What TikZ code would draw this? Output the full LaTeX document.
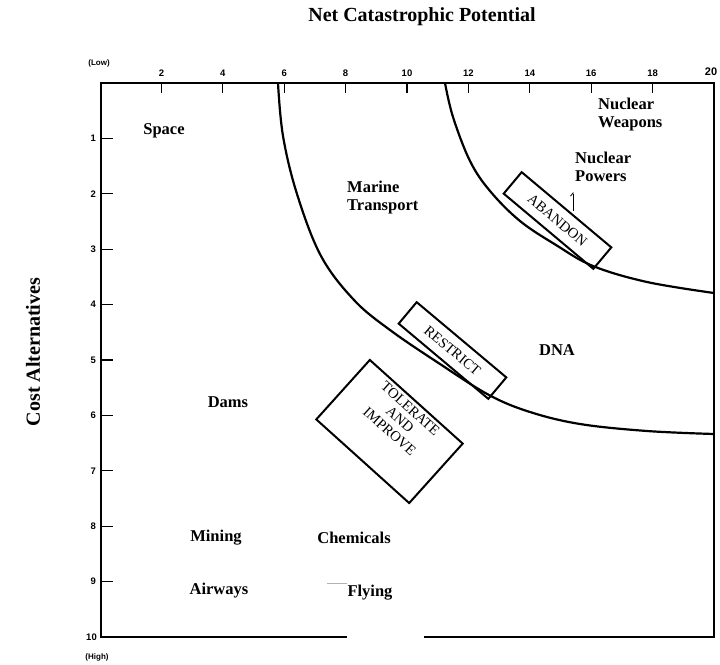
\documentclass[tikz,border=0pt]{standalone}
\usepackage{fontspec}
\setmainfont{Liberation Serif}
\setsansfont{Liberation Sans}
\usetikzlibrary{arrows.meta}
\begin{document}
\begin{tikzpicture}[x=1pt,y=-1pt,
  frame/.style={line width=1.6pt},
  tickline/.style={line width=1.2pt},
  curve/.style={line width=2.2pt},
  stratbox/.style={draw, line width=2pt, inner sep=0pt, font=\fontsize{14.5}{15.5}\selectfont},
  lbl/.style={font=\fontsize{16.5}{17.5}\selectfont\bfseries, align=left, inner sep=0pt},
  ticklbl/.style={font=\sffamily\bfseries\fontsize{9.5}{10}\selectfont, inner sep=0pt},
  endlbl/.style={font=\sffamily\bfseries\fontsize{8}{9}\selectfont, inner sep=0pt},
  bigtitle/.style={font=\fontsize{20}{22}\selectfont\bfseries, inner sep=0pt}
]
\useasboundingbox (0,0) rectangle (720,664);

% frame
\coordinate (TL) at (101,83);
\coordinate (TR) at (714,83);
\coordinate (BR) at (714,637);
\coordinate (BL) at (101,637);
\coordinate (G1) at (347,637);
\coordinate (G2) at (424,637);
\draw[frame] (G1) -- (BL) -- (TL) -- (TR) -- (BR) -- (G2);

% top ticks and labels
\foreach \k in {2,4,...,18}{
  \draw[tickline] ({100+30.7*\k},83) -- ++(0,10);
  \node[ticklbl] (tx\k) at ({100+30.7*\k},73) {\k};
}
\node[ticklbl, font=\sffamily\bfseries\fontsize{11}{12}\selectfont] (tx20) at (711,72) {20};
\node[endlbl] (low) at (99,63) {(Low)};

% left ticks and labels
\foreach \k in {1,...,9}{
  \draw[tickline] (101,{83+55.4*\k}) -- ++(12,0);
  \node[ticklbl, anchor=east] (ty\k) at (96,{83+55.4*\k}) {\k};
}
\node[ticklbl, anchor=east] (ty10) at (97,637) {10};
\node[endlbl] (high) at (97,657) {(High)};

% axis titles
\node[bigtitle] (title) at (422,17) {Net Catastrophic Potential};
\node[bigtitle, rotate=90] (ytitle) at (33,352) {Cost Alternatives};

% curves
\draw[curve] plot[smooth, tension=0.6] coordinates {(278,83) (283,136) (297,194) (321,256) (354,300) (390,330) (440,364) (489,395) (530,412) (580,424) (647,431) (714,434)};
\draw[curve] plot[smooth, tension=0.6] coordinates {(445,83) (453,117) (470,161) (490,191) (520,221) (556,245) (593,266) (647,282) (714,293)};

% strategy boxes
\node[stratbox, rotate=-40, minimum width=117pt, minimum height=28pt] (abandon) at (557.5,220.5) {ABANDON};
\node[stratbox, rotate=-40, minimum width=117pt, minimum height=28pt] (restrict) at (452.5,350.5) {RESTRICT};
\node[stratbox, rotate=-42, minimum width=125pt, minimum height=80pt] (tolerate) at (389.5,431.5) {};
\node[font=\fontsize{14.5}{15.5}\selectfont, align=center, rotate=-42, inner sep=0pt] (toltext) at (400,420) {TOLERATE\\AND\\IMPROVE};

% activity labels
\node[lbl] (space) at (164,131) {Space};
\node[lbl, anchor=north west] (marine) at (347,181) {Marine\\Transport};
\node[lbl, anchor=north west] (nweap) at (598,98) {Nuclear\\Weapons};
\node[lbl, anchor=north west] (npow) at (575,152) {Nuclear\\Powers};
\node[lbl] (dna) at (557,350) {DNA};
\node[lbl] (dams) at (228,402) {Dams};
\node[lbl] (mining) at (216,538) {Mining};
\node[lbl] (chem) at (354,538) {Chemicals};
\node[lbl] (airways) at (219,591) {Airways};
\node[lbl] (flying) at (370,593) {Flying};

% small marks
\coordinate (hookA) at (573,211);
\coordinate (hookB) at (573,192);
\draw[line width=0.8pt, -{Straight Barb[left,length=3pt,width=5pt]}] (hookA) -- (hookB);
\coordinate (dashA) at (327,583);
\coordinate (dashB) at (347,583);
\draw[gray!60, line width=0.8pt] (dashA) -- (dashB);
\end{tikzpicture}
\end{document}
